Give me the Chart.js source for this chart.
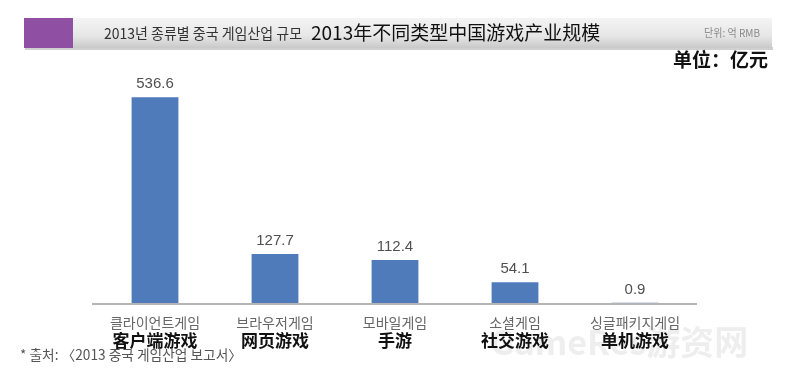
<!DOCTYPE html>
<html>
<head>
<meta charset="utf-8">
<script src="https://cdn.jsdelivr.net/npm/chart.js@4"></script>
<style>
  html, body { margin: 0; padding: 0; background: #fff; }
  #wrap { width: 800px; height: 373px; position: relative; }
</style>
</head>
<body>
<div id="wrap"><canvas id="myChart"></canvas></div>
<script>
var ctx = document.getElementById('myChart').getContext('2d');
/* 2013 China game industry by type, 亿元 */
const namesKo = ['클라이언트게임', '브라우저게임', '모바일게임', '소셜게임', '싱글패키지게임'];
const namesZh = ['客户端游戏', '网页游戏', '手游', '社交游戏', '单机游戏'];
const value = [536.6, 127.7, 112.4, 54.1, 0.9];

const CJK = '"Noto Sans CJK KR", "Noto Sans CJK SC", sans-serif';
const SC = '"Noto Sans CJK SC", sans-serif';

const decor = {
    id: 'decor',
    beforeDraw(chart) {
        const c = chart.ctx;
        c.save();
        // header band
        let g = c.createLinearGradient(0, 18, 0, 48);
        g.addColorStop(0, '#f4f4f4');
        g.addColorStop(0.6, '#e6e6e6');
        g.addColorStop(1, '#c9c9c9');
        c.fillStyle = '#d0d0d0';
        c.fillRect(25, 47, 748, 3);
        c.fillStyle = g;
        c.fillRect(24, 18, 748, 30);
        c.fillStyle = '#8f4fa3';
        c.fillRect(24, 18, 49, 30);
        c.textBaseline = 'middle';
        c.fillStyle = '#333';
        c.font = '15px ' + CJK;
        c.textAlign = 'left';
        c.fillText('2013년 종류별 중국 게임산업 규모', 104, 33, 198);
        c.fillStyle = '#111';
        c.font = '19px ' + SC;
        c.fillText('2013年不同类型中国游戏产业规模', 311, 33, 294);
        c.fillStyle = '#888';
        c.font = '11px ' + CJK;
        c.textAlign = 'right';
        c.fillText('단위: 억 RMB', 760, 33, 56);
        c.fillStyle = '#111';
        c.font = 'bold 19px ' + SC;
        c.fillText('单位：亿元', 768, 60);
        // watermark
        c.fillStyle = 'rgba(200,200,200,0.3)';
        c.font = 'bold 34px ' + SC;
        c.textAlign = 'left';
        c.fillText('GameRes游资网', 490, 342);
        c.restore();
    },
    afterDatasetsDraw(chart) {
        const c = chart.ctx;
        const area = chart.chartArea;
        const xs = chart.scales.x;
        const meta = chart.getDatasetMeta(0);
        c.save();
        // baseline
        c.strokeStyle = '#b5b5b5';
        c.lineWidth = 2;
        c.beginPath();
        c.moveTo(area.left - 3, area.bottom + 1);
        c.lineTo(area.right + 2, area.bottom + 1);
        c.stroke();
        c.textAlign = 'center';
        c.textBaseline = 'middle';
        meta.data.forEach(function (bar, i) {
            c.fillStyle = '#505050';
            c.font = '15px "Liberation Sans", Arial, sans-serif';
            c.fillText(value[i].toFixed(1), bar.x, bar.y - 13);
            const x = xs.getPixelForValue(i);
            c.fillStyle = '#666';
            c.font = '14px ' + CJK;
            c.fillText(namesKo[i], x, area.bottom + 20);
            c.fillStyle = '#111';
            c.font = 'bold 17px ' + SC;
            c.fillText(namesZh[i], x, area.bottom + 38);
        });
        c.fillStyle = '#555';
        c.font = '14px ' + CJK;
        c.textAlign = 'left';
        c.fillText('* 출처: 〈2013 중국 게임산업 보고서〉', 20, 355, 222);
        c.restore();
    }
};

var myChart = new Chart(ctx, {
    type: 'bar',
    data: {
        labels: namesZh,
        datasets: [{
            label: '亿元',
            data: value,
            backgroundColor: '#4f7bbb',
            barPercentage: 0.39,
            categoryPercentage: 1
        }]
    },
    options: {
        responsive: true,
        maintainAspectRatio: false,
        animation: false,
        layout: { padding: { left: 95, right: 105, top: 73, bottom: 70 } },
        plugins: { legend: { display: false }, tooltip: { enabled: false } },
        scales: {
            x: { display: false },
            y: { display: false, min: 0, max: 600 }
        }
    },
    plugins: [decor]
});
</script>
</body>
</html>
